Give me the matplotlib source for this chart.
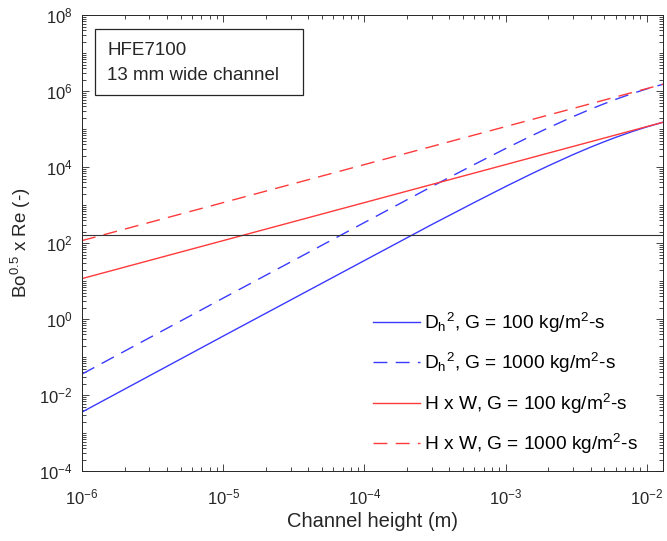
import matplotlib
matplotlib.use("Agg")
import matplotlib.pyplot as plt
from matplotlib.patches import Rectangle
from matplotlib.ticker import LogLocator, NullFormatter

plt.rcParams['font.family'] = ['Liberation Sans', 'DejaVu Sans']
plt.rcParams['mathtext.default'] = 'regular'
plt.rcParams['axes.unicode_minus'] = False

# channel height (m)
height = [1e-6, 1e-5, 1e-4, 3e-4, 6e-4, 1e-3, 1.5e-3, 2e-3, 3e-3, 4e-3,
          5e-3, 6e-3, 8e-3, 1e-2, 1.3e-2]

# Bo^0.5 x Re, hydraulic diameter squared
dh2_g100 = [0.0036, 0.36, 35, 310, 1180, 3100, 6500, 10800, 21400, 33700,
            46900, 60700, 88300, 115000, 152000]
dh2_g1000 = [0.036, 3.6, 350, 3100, 11800, 31000, 65000, 108000, 214000, 337000,
             469000, 607000, 883000, 1150000, 1520000]
# Bo^0.5 x Re, height x width
hw_g100 = [11.7, 117, 1170, 3510, 7020, 11700, 17550, 23400, 35100, 46800,
           58500, 70200, 93600, 117000, 152000]
hw_g1000 = [117, 1170, 11700, 35100, 70200, 117000, 175500, 234000, 351000, 468000,
            585000, 702000, 936000, 1170000, 1520000]

threshold = 165

fig = plt.figure(figsize=(6.67, 5.41), dpi=100)
ax = fig.add_axes([0.123, 0.129, 0.871, 0.843])

blue = '#3a3aff'
red = '#ff3a3a'
ax.plot(height, dh2_g100, color=blue, lw=1.0, label=r'D$_h$$^2$, G = 100 kg/m$^2$-s')
ax.plot(height, dh2_g1000, color=blue, lw=1.0, dashes=(10, 6), label=r'D$_h$$^2$, G = 1000 kg/m$^2$-s')
ax.plot(height, hw_g100, color=red, lw=1.0, label=r'H x W, G = 100 kg/m$^2$-s')
ax.plot(height, hw_g1000, color=red, lw=1.0, dashes=(10, 6), label=r'H x W, G = 1000 kg/m$^2$-s')
ax.axhline(threshold, color='#333333', lw=0.8)

ax.set_xscale('log')
ax.set_yscale('log')
ax.set_xlim(1e-6, 1.3e-2)
ax.set_ylim(1e-4, 1e8)

ax.yaxis.set_major_locator(LogLocator(base=100, numticks=20))
ax.yaxis.set_minor_locator(LogLocator(base=10, subs=range(1, 10), numticks=100))
ax.yaxis.set_minor_formatter(NullFormatter())
ax.xaxis.set_minor_locator(LogLocator(base=10, subs=range(2, 10), numticks=100))
ax.xaxis.set_minor_formatter(NullFormatter())

ax.tick_params(which='both', direction='in', top=True, right=True, colors='#262626',
               labelsize=12, labelcolor='#262626')
ax.tick_params(which='major', length=5, width=0.6)
ax.tick_params(which='minor', length=3, width=0.6)
ax.tick_params(axis='x', pad=12)
ax.tick_params(axis='y', pad=7)
for s in ax.spines.values():
    s.set_color('#262626')
    s.set_linewidth(0.7)

ax.set_xlabel('Channel height (m)', fontsize=14.5, color='#262626', labelpad=3)
ax.set_ylabel('Bo$^{0.5}$ x Re (-)', fontsize=13.5, color='#262626', labelpad=4)

# info box
ax.add_patch(Rectangle((0.0224, 0.825), 0.358, 0.144, transform=ax.transAxes,
                       fc='white', ec='#262626', lw=0.9, zorder=3))
ax.text(0.043, 0.923, 'HFE7100', transform=ax.transAxes, fontsize=13.5,
        color='#262626', va='center', ha='left', zorder=4)
ax.text(0.043, 0.868, '13 mm wide channel', transform=ax.transAxes, fontsize=13.5,
        color='#262626', va='center', ha='left', zorder=4)

ax.legend(loc='upper left', bbox_to_anchor=(0.501, 0.352), frameon=False,
          fontsize=13.8, handlelength=2.45, labelspacing=0.85, handletextpad=0.2,
          borderpad=0, borderaxespad=0)

fig.savefig('out.png', dpi=100)
